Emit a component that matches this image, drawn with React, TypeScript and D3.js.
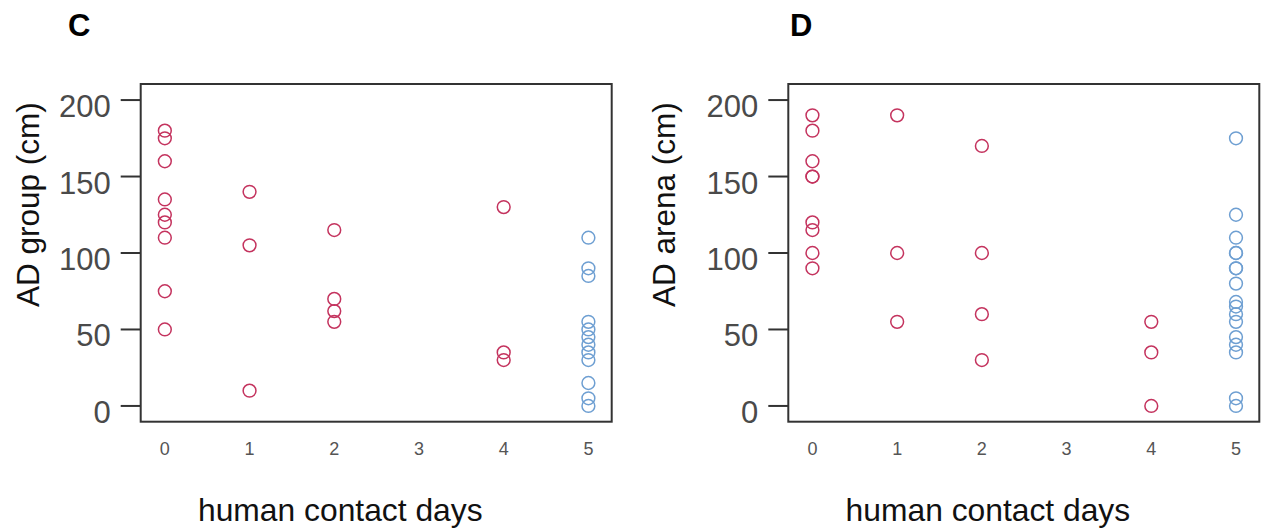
import React from "react";
import * as d3 from "d3";

// ---------- data ----------
const xTickLabels = [0, 1, 2, 3, 4, 5];
const yTickValues = [0, 50, 100, 150, 200];

// Panel C: AD group (cm)
const groupDay0 = [180, 175, 160, 135, 125, 120, 110, 75, 50];
const groupDay1 = [140, 105, 10];
const groupDay2 = [115, 70, 62, 55];
const groupDay4 = [130, 35, 30];
const groupDay5 = [110, 90, 85, 55, 50, 45, 40, 35, 30, 15, 5, 0];

// Panel D: AD arena (cm)
const arenaDay0 = [190, 180, 160, 150, 150, 120, 115, 100, 90];
const arenaDay1 = [190, 100, 55];
const arenaDay2 = [170, 100, 60, 30];
const arenaDay4 = [55, 35, 0];
const arenaDay5 = [175, 125, 110, 100, 100, 90, 90, 80, 68, 65, 60, 55, 45, 40, 35, 5, 0];

type Pt = { day: number; v: number; blue: boolean };

const build = (d0: number[], d1: number[], d2: number[], d4: number[], d5: number[]): Pt[] => [
  ...d0.map((v) => ({ day: 0, v, blue: false })),
  ...d1.map((v) => ({ day: 1, v, blue: false })),
  ...d2.map((v) => ({ day: 2, v, blue: false })),
  ...d4.map((v) => ({ day: 4, v, blue: false })),
  ...d5.map((v) => ({ day: 5, v, blue: true })),
];

const RED = "#c4335e";
const BLUE = "#6e9fd2";
const FONT = "'Liberation Sans', Arial, sans-serif";

type PanelProps = {
  left: number;
  label: string;
  labelX: number;
  yTitle: string;
  yTitleX: number;
  points: Pt[];
};

const TOP = 84;
const BOTTOM = 421.7;
const WIDTH = 471;

function Panel({ left, label, labelX, yTitle, yTitleX, points }: PanelProps) {
  const right = left + WIDTH;
  const x = d3.scaleLinear().domain([-0.285, 5.275]).range([left, right]);
  const y = d3.scaleLinear().domain([-10.3, 210.5]).range([BOTTOM, TOP]);
  return (
    <g>
      <text x={labelX} y={36} fontFamily={FONT} fontWeight="bold" fontSize={31} fill="#000">
        {label}
      </text>
      {/* y ticks */}
      {yTickValues.map((t) => (
        <g key={t}>
          <line x1={left - 20} x2={left} y1={y(t)} y2={y(t)} stroke="#333" strokeWidth={2} />
          <text
            x={left - 30}
            y={y(t)}
            dy={17}
            textAnchor="end"
            fontFamily={FONT}
            fontSize={31}
            fill="#4a4a4a"
          >
            {t}
          </text>
        </g>
      ))}
      {/* x tick labels */}
      {xTickLabels.map((t) => (
        <text
          key={t}
          x={x(t)}
          y={455}
          textAnchor="middle"
          fontFamily={FONT}
          fontSize={18}
          fill="#555"
        >
          {t}
        </text>
      ))}
      {/* points */}
      {points.map((p, i) => (
        <circle
          key={i}
          cx={x(p.day)}
          cy={y(p.v)}
          r={6.4}
          fill="none"
          stroke={p.blue ? BLUE : RED}
          strokeWidth={1.5}
        />
      ))}
      {/* box */}
      <rect
        x={left}
        y={TOP}
        width={WIDTH}
        height={BOTTOM - TOP}
        fill="none"
        stroke="#333"
        strokeWidth={2}
      />
      {/* axis titles */}
      <text
        transform={`translate(${yTitleX},307) rotate(-90)`}
        fontFamily={FONT}
        fontSize={31.5}
        fill="#111"
      >
        {yTitle}
      </text>
      <text x={left + 57.3} y={521} fontFamily={FONT} fontSize={31.8} fill="#111">
        human contact days
      </text>
    </g>
  );
}

export default function App() {
  const groupPts = build(groupDay0, groupDay1, groupDay2, groupDay4, groupDay5);
  const arenaPts = build(arenaDay0, arenaDay1, arenaDay2, arenaDay4, arenaDay5);
  return (
    <svg
      width={1264}
      height={529}
      style={{ position: "absolute", left: 0, top: 0, background: "#fff" }}
    >
      <rect x={0} y={0} width={1264} height={529} fill="#fff" />
      <Panel left={140.7} label="C" labelX={68} yTitle="AD group (cm)" yTitleX={38.5} points={groupPts} />
      <Panel left={788.3} label="D" labelX={790} yTitle="AD arena (cm)" yTitleX={675} points={arenaPts} />
    </svg>
  );
}
